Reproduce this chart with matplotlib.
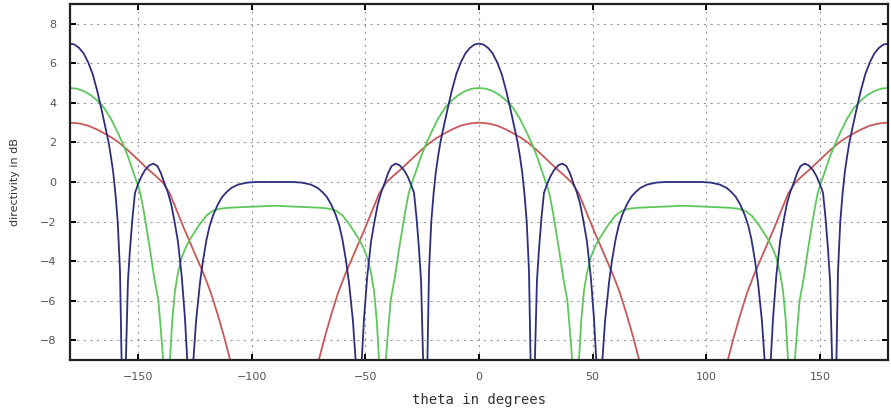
import numpy as np
import matplotlib
matplotlib.use("Agg")
import matplotlib.pyplot as plt

# Directivity (dB) sampled over 0..90 degrees; the patterns are symmetric
# about 0 and about +/-90 degrees, so the full sweep is built by mirroring.
theta_red = [0, 4, 8, 12, 16, 19, 22, 26, 30, 34, 38, 41, 44, 47, 50, 53,
             56, 59, 62, 65, 68, 70.5, 73, 75, 90]
dir_red = [3.0, 2.96, 2.85, 2.65, 2.4, 2.2, 1.95, 1.55, 1.12, 0.68, 0.28,
           -0.05, -0.6, -1.45, -2.3, -3.1, -3.9, -4.7, -5.6, -6.7, -7.9,
           -9.0, -10.5, np.nan, np.nan]

theta_green = [0, 3, 6, 9, 12, 15, 18, 21, 23, 25.5, 28, 30, 31, 32.5, 35.2,
               37, 38.9, 40, 41, 41.8, 44, 45, 46.2, 47.5, 49.2, 51, 52.8, 55,
               57, 60, 63, 66, 70, 80, 90]
dir_green = [4.75, 4.72, 4.6, 4.4, 4.12, 3.75, 3.2, 2.5, 2.0, 1.3, 0.45,
             -0.2, -0.6, -1.5, -3.4, -4.8, -6.0, -7.5, -9.0, -20.0, -9.0,
             -7.0, -5.5, -4.6, -3.8, -3.3, -2.9, -2.5, -2.15, -1.7, -1.45,
             -1.35, -1.3, -1.25, -1.2]

theta_blue = [0, 2, 4, 6, 8, 10, 12, 14, 16, 17, 18, 19, 20, 21, 22, 22.7,
              23.6, 24.6, 25.5, 26.4, 27.5, 28.6, 30, 31.5, 33, 35, 36.7,
              38.5, 40, 41.5, 43, 44.5, 46, 47.5, 49.2, 50.6, 51.6, 53.1,
              54.3, 55.5, 57.2, 58.5, 60.1, 61.5, 63.1, 65, 67, 69, 71, 74,
              78, 82, 90]
dir_blue = [7.0, 6.95, 6.78, 6.5, 6.05, 5.45, 4.6, 3.6, 2.55, 2.0, 1.3, 0.5,
            -0.6, -2.0, -4.5, -9.0, -20.0, -9.0, -5.0, -3.4, -1.8, -0.55,
            -0.1, 0.3, 0.6, 0.85, 0.93, 0.8, 0.45, -0.05, -0.5, -1.1, -2.0,
            -3.0, -4.8, -6.9, -9.0, -20.0, -9.0, -7.0, -5.1, -4.0, -2.9,
            -2.2, -1.65, -1.15, -0.75, -0.5, -0.3, -0.13, -0.03, 0.0, 0.0]

x_ticks = [-150, -100, -50, 0, 50, 100, 150]
y_ticks = [-8, -6, -4, -2, 0, 2, 4, 6, 8]


def full_sweep(t, v):
    t = np.asarray(t, float)
    v = np.asarray(v, float)
    half_t = np.concatenate([t, 180 - t[::-1][1:]])
    half_v = np.concatenate([v, v[::-1][1:]])
    full_t = np.concatenate([-half_t[::-1], half_t[1:]])
    full_v = np.concatenate([half_v[::-1], half_v[1:]])
    return full_t, full_v


fig = plt.figure(figsize=(8.91, 4.09), dpi=100)
ax = fig.add_axes([70 / 891, 1 - 360 / 409, 818 / 891, 356 / 409])

series = [
    (theta_red, dir_red, "#c8585a"),
    (theta_green, dir_green, "#5cc85c"),
    (theta_blue, dir_blue, "#2e2e7e"),
]
for t, v, c in series:
    ft, fv = full_sweep(t, v)
    ax.plot(ft, fv, color=c, lw=1.3, solid_joinstyle="round")

ax.set_xlim(-180, 180)
ax.set_ylim(-9, 9)
ax.set_xticks(x_ticks)
ax.set_yticks(y_ticks)
ax.grid(True, color="#9a9a9a", lw=0.8, linestyle=(0, (2, 4)))
ax.tick_params(direction="in", length=4, width=1.4, top=True, right=True,
               labelsize=8, labelcolor="#555555", color="black")
ax.tick_params(axis="x", pad=9)
ax.tick_params(axis="y", pad=10)
for s in ax.spines.values():
    s.set_linewidth(1.6)
    s.set_color("#222222")

fig.text(479 / 891, 1 - 400 / 409, "theta in degrees", ha="center",
         va="center", fontsize=10, family="DejaVu Sans Mono", color="#333333")
fig.text(15 / 891, 1 - 182 / 409, "directivity in dB", ha="center",
         va="center", rotation=90, fontsize=8, color="#333333")

fig.savefig("out.png", dpi=100, facecolor="white")
